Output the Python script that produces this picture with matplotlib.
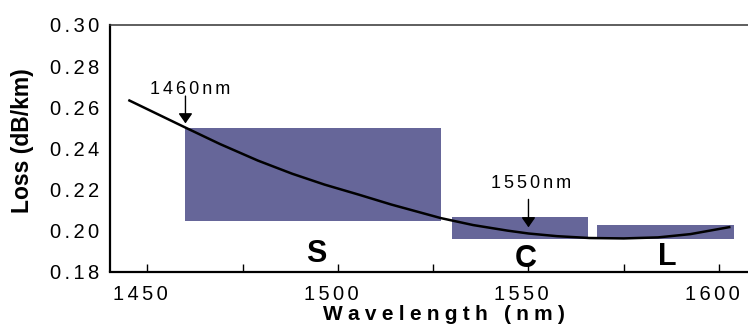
import matplotlib
matplotlib.use("Agg")
import matplotlib.pyplot as plt
import matplotlib.transforms as mtransforms

plt.rcParams["font.family"] = ["Liberation Sans", "DejaVu Sans"]

# Attenuation curve of standard single-mode fibre
wavelength = [1445, 1459.5, 1469, 1479, 1488, 1496.5, 1505.5, 1514, 1527,
              1535.5, 1544.5, 1550, 1557.5, 1566, 1575, 1584, 1592.5, 1603]
loss = [0.2635, 0.2505, 0.2421, 0.2340, 0.2276, 0.2223, 0.2174, 0.2126,
        0.2060, 0.2026, 0.1999, 0.1985, 0.1972, 0.1963, 0.1961, 0.1966,
        0.1982, 0.2017]

# Transmission bands
band_names = ["S", "C", "L"]
band_start = [1460, 1530, 1568]
band_end = [1527, 1565.5, 1604]
band_low = [0.2047, 0.1957, 0.1957]
band_high = [0.2500, 0.2065, 0.2025]

# Marked wavelengths
marker_nm = [1460, 1550]
marker_labels = ["1460nm", "1550nm"]

x_ticks = [1450, 1500, 1550, 1600]
x_minor = [1475, 1525, 1575]
y_ticks = [0.18, 0.20, 0.22, 0.24, 0.26, 0.28, 0.30]
y_minor = [0.22, 0.26]

TRACK = "\u2006"


def tracked(s, sep=TRACK):
    return sep.join(s)


fig = plt.figure(figsize=(7.48, 3.32), dpi=100)
ax = fig.add_axes([110 / 748, 1 - 271.5 / 332, 1 - 110 / 748, 246.5 / 332])
ax.set_xlim(1440.2, 1607.6)
ax.set_ylim(0.18, 0.30)

band_color = "#666699"
ax.bar(band_start,
       [h - l for h, l in zip(band_high, band_low)],
       width=[e - s for e, s in zip(band_end, band_start)],
       bottom=band_low, align="edge", color=band_color, linewidth=0, zorder=1)

ax.plot(wavelength, loss, color="black", linewidth=1.8, zorder=3,
        solid_capstyle="butt", solid_joinstyle="round")

# Band letters
band_label_x = [1494.3, 1549.4, 1586.4]
band_label_y = [0.1846, 0.1823, 0.1831]
for name, bx, by in zip(band_names, band_label_x, band_label_y):
    ax.text(bx, by, name, fontsize=22, fontweight="bold", ha="center",
            va="baseline", zorder=4)

# Arrows pointing at the marked wavelengths
arrow_tip = [0.2521, 0.2015]
arrow_tail = [0.2654, 0.2151]
label_x = [1461.1, 1550.7]
label_y = [0.2664, 0.2206]
for nm, lab, tip, tail, lx, ly in zip(marker_nm, marker_labels, arrow_tip,
                                      arrow_tail, label_x, label_y):
    ax.annotate("", xy=(nm, tip), xytext=(nm, tail),
                arrowprops=dict(arrowstyle="-|>,head_length=0.5,head_width=0.35",
                                color="black", lw=1.0, mutation_scale=12,
                                shrinkA=0, shrinkB=0), zorder=4)
    ax.text(lx, ly, tracked(lab), fontsize=13, ha="center", va="baseline")

# Axes frame
for side in ("left", "bottom"):
    ax.spines[side].set_linewidth(1.6)
    ax.spines[side].set_color("black")
ax.spines["top"].set_linewidth(1.1)
ax.spines["top"].set_color("#333333")
ax.spines["right"].set_visible(False)

ax.set_xticks(x_ticks)
ax.set_xticks(x_minor, minor=True)
ax.set_xticklabels([tracked(str(t)) for t in x_ticks], fontsize=14.5)
ax.tick_params(axis="x", which="both", direction="in", length=6, width=1.0,
               pad=9.5, top=False)

ax.set_yticks(y_ticks)
ax.set_yticks(y_minor, minor=True)
ax.set_yticklabels([tracked(f"{t:.2f}") for t in y_ticks], fontsize=14.5)
ax.tick_params(axis="y", which="major", length=0, pad=8)
ax.tick_params(axis="y", which="minor", direction="in", length=6.5, width=1.0)

shift = mtransforms.ScaledTranslation(-7 / 100, 0, fig.dpi_scale_trans)
for lbl in ax.get_xticklabels():
    lbl.set_transform(lbl.get_transform() + shift)

fig.text(444 / 748, 1 - 320 / 332, tracked("Wavelength (nm)", "\u2005"),
         fontsize=15, fontweight="bold", ha="center", va="baseline")
fig.text(23 / 748, 1 - 141 / 332, "Loss (dB/km)", fontsize=16.5,
         fontweight="bold", rotation=90, ha="center", va="center")

fig.savefig("out.png", dpi=100)
